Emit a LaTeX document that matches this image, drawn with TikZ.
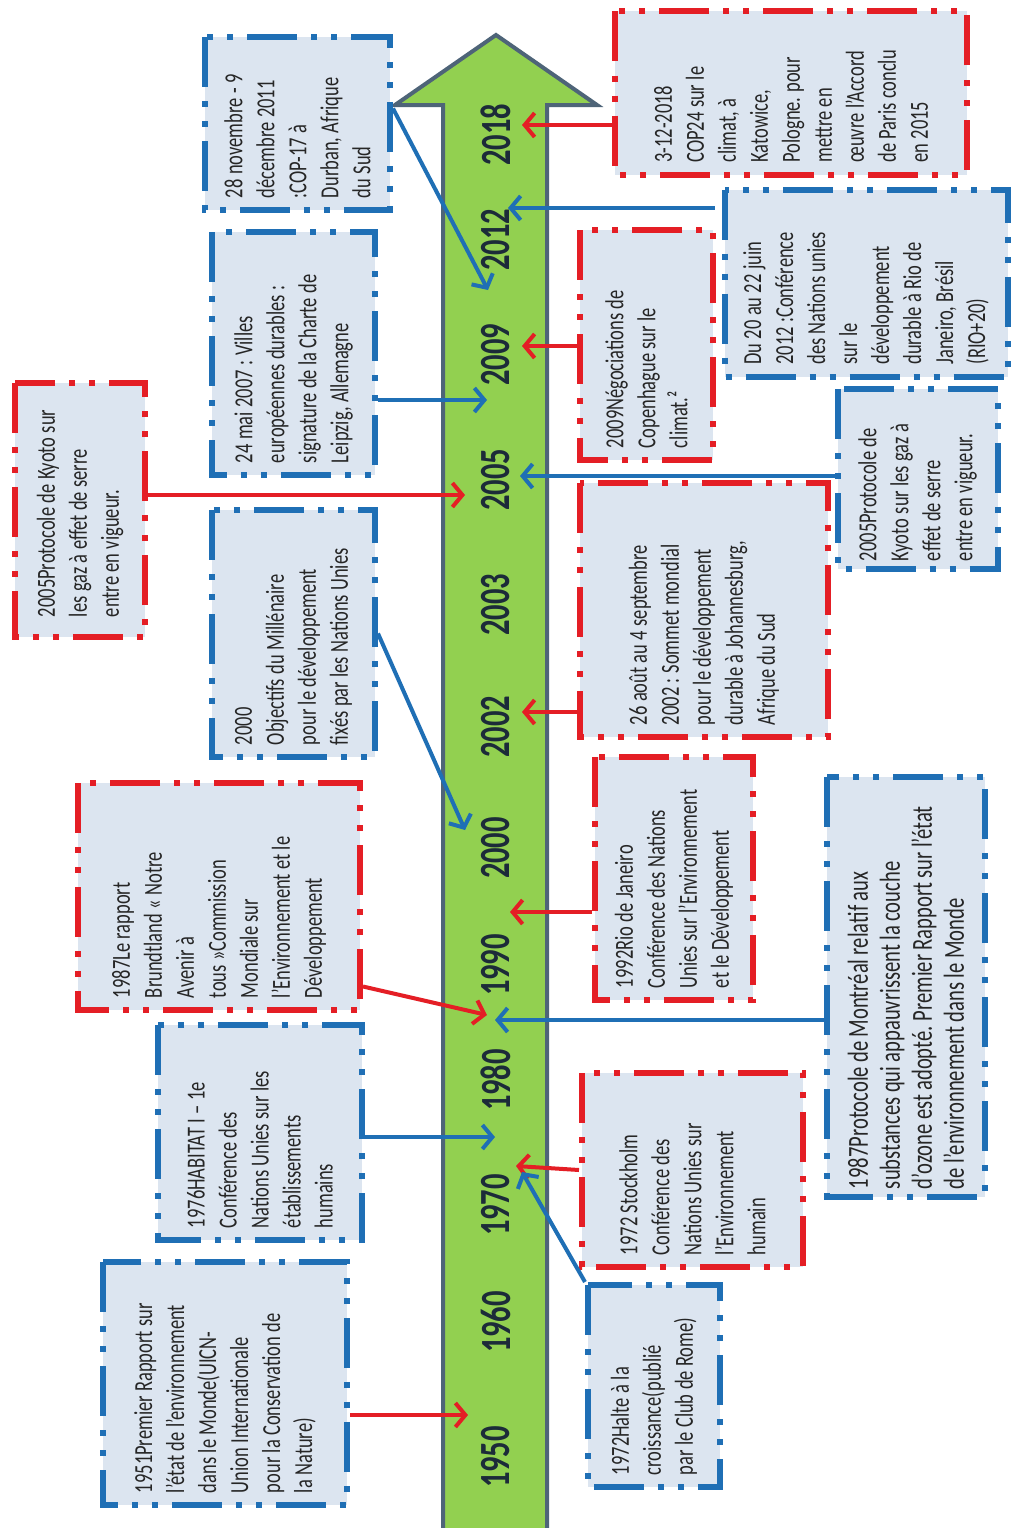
\documentclass[tikz,border=0pt]{standalone}
\usepackage{fontspec}
\setmainfont[FakeStretch=0.71]{Carlito}
\usetikzlibrary{arrows.meta}
\definecolor{redc}{RGB}{228,30,37}
\definecolor{bluec}{RGB}{31,111,181}
\definecolor{boxfill}{RGB}{220,229,240}
\definecolor{greenc}{RGB}{146,208,80}
\definecolor{outlinec}{RGB}{78,100,120}
\definecolor{txtc}{RGB}{38,38,38}
\definecolor{yearc}{RGB}{28,43,57}
\tikzset{
 evbox/.style={rotate=90, fill=boxfill, line width=6pt,
   dash pattern=on 50pt off 14pt on 6pt off 14pt on 6pt off 14pt,
   inner xsep=12pt, inner ysep=6pt, align=left, text=txtc,
   font=\fontsize{26}{32}\selectfont,
   execute at begin node={\spaceskip=4.4pt plus 1pt minus 1pt\xspaceskip=5pt plus 1pt\relax}},
 redbox/.style={evbox, draw=redc},
 bluebox/.style={evbox, draw=bluec},
 yearlbl/.style={rotate=90, text=yearc, font=\bfseries\fontsize{43}{43}\selectfont, inner sep=0pt},
 redarr/.style={draw=redc, line width=4pt, -{Straight Barb[length=10pt,width=24pt]}},
 bluearr/.style={draw=bluec, line width=4pt, -{Straight Barb[length=10pt,width=24pt]}},
}
\begin{document}
\begin{tikzpicture}[x=1pt,y=-1pt]
\useasboundingbox (0,0) rectangle (1012,1528);
\fill[white] (0,0) rectangle (1012,1528);

% timeline arrow
\fill[greenc] (443,1540) -- (443,105) -- (395,105) -- (496,35) -- (597,105) -- (547,105) -- (547,1540) -- cycle;
\draw[outlinec, line width=4pt, line join=miter] (443,1540) -- (443,105) -- (395,105) -- (496,35) -- (597,105) -- (547,105) -- (547,1540);

% years
\node[yearlbl] (y1950) at (496,1457) {1950};
\node[yearlbl] (y1960) at (496,1322) {1960};
\node[yearlbl] (y1970) at (496,1205) {1970};
\node[yearlbl] (y1980) at (496,1080) {1980};
\node[yearlbl] (y1990) at (496,965) {1990};
\node[yearlbl] (y2000) at (496,848) {2000};
\node[yearlbl] (y2002) at (496,727) {2002};
\node[yearlbl] (y2003) at (496,605) {2003};
\node[yearlbl] (y2005) at (496,480) {2005};
\node[yearlbl] (y2009) at (496,355) {2009};
\node[yearlbl] (y2012) at (496,240) {2012};
\node[yearlbl] (y2018) at (496,135) {2018};

% target points
\coordinate (tKyotoL) at (465,495);
\coordinate (tDurban) at (488,290);
\coordinate (tLeipzig) at (487,400);
\coordinate (tObj) at (465,830);
\coordinate (tBrund) at (487,1015);
\coordinate (tHabitat) at (495,1137);
\coordinate (tUicn) at (468,1415);
\coordinate (tCop) at (522,125);
\coordinate (tRio20) at (508,208);
\coordinate (tCopen) at (522,346);
\coordinate (tKyotoR) at (520,476);
\coordinate (tJoburg) at (522,712);
\coordinate (tRio92) at (510,912);
\coordinate (tMontreal) at (495,1020);
\coordinate (tStock) at (516,1166);
\coordinate (tHalte) at (522,1172);

% left boxes
\node[redbox, minimum width=254pt, minimum height=130pt, text width=214pt, inner xsep=20pt] (kyotoL) at (80,510)
 {2005Protocole de Kyoto sur\\les gaz à effet de serre\\entre en vigueur.};
\node[bluebox, minimum width=173pt, minimum height=185pt, text width=149pt] (durban) at (297.5,123.5)
 {28 novembre - 9\\décembre 2011\\:COP-17 à\\Durban, Afrique\\du Sud};
\node[bluebox, minimum width=243pt, minimum height=163pt, text width=219pt] (leipzig) at (293.5,353.5)
 {24 mai 2007 : Villes\\européennes durables :\\signature de la Charte de\\Leipzig, Allemagne};
\node[bluebox, minimum width=247pt, minimum height=163pt, text width=223pt] (objectifs) at (293.5,633.5)
 {2000\\Objectifs du Millénaire\\pour le développement\\fixés par les Nations Unies};
\node[redbox, minimum width=227pt, minimum height=282pt, text width=203pt] (brundtland) at (219,896.5)
 {1987Le rapport\\Brundtland « Notre\\Avenir à\\tous »Commission\\Mondiale sur\\l’Environnement et le\\Développement};
\node[bluebox, minimum width=215pt, minimum height=204pt, text width=191pt] (habitat) at (260,1132.5)
 {1976HABITAT I – 1e\\Conférence des\\Nations Unies sur les\\établissements\\humains};
\node[bluebox, minimum width=243pt, minimum height=244pt, text width=219pt] (uicn) at (225,1383.5)
 {1951Premier Rapport sur\\l’état de l’environnement\\dans le Monde(UICN-\\Union Internationale\\pour la Conservation de\\la Nature)};

% right boxes
\node[redbox, minimum width=163pt, minimum height=352pt, text width=139pt] (cop24) at (791,93)
 {3-12-2018\\COP24 sur le\\climat, à\\Katowice,\\Pologne. pour\\mettre en\\œuvre l’Accord\\de Paris conclu\\en 2015};
\node[bluebox, minimum width=187pt, minimum height=283pt, text width=163pt] (rio20) at (866,283)
 {Du 20 au 22 juin\\2012 :Conférence\\des Nations unies\\sur le\\développement\\durable à Rio de\\Janeiro, Brésil\\(RIO+20)};
\node[redbox, minimum width=230pt, minimum height=133pt, text width=206pt] (copen) at (646.5,345)
 {2009Négociations de\\Copenhague sur le\\climat.²};
\node[bluebox, minimum width=180pt, minimum height=160pt, text width=164pt, inner xsep=8pt] (kyotoR) at (917.5,479)
 {2005Protocole de\\Kyoto sur les gaz à\\effet de serre\\entre en vigueur.};
\node[redbox, minimum width=254pt, minimum height=248pt, text width=230pt] (joburg) at (704,610)
 {26 août au 4 septembre\\2002 : Sommet mondial\\pour le développement\\durable à Johannesburg,\\Afrique du Sud};
\node[redbox, minimum width=243pt, minimum height=158pt, text width=219pt] (rio92) at (674,878.5)
 {1992Rio de Janeiro\\Conférence des Nations\\Unies sur l’Environnement\\et le Développement};
\node[bluebox, minimum width=420pt, minimum height=158pt, text width=404pt, inner xsep=8pt,
  font=\fontsize{29}{32}\selectfont] (montreal) at (906,987)
 {1987Protocole de Montréal relatif aux\\substances qui appauvrissent la couche\\d’ozone est adopté. Premier Rapport sur l’état\\de l’environnement dans le Monde};
\node[redbox, minimum width=194pt, minimum height=221pt, text width=170pt] (stockholm) at (692.5,1170)
 {1972 Stockholm\\Conférence des\\Nations Unies sur\\l’Environnement\\humain};
\node[bluebox, minimum width=202pt, minimum height=132pt, text width=178pt] (halte) at (654,1386)
 {1972Halte à la\\croissance(publié\\par le Club de Rome)};

% connectors
\draw[redarr] (kyotoL.south |- tKyotoL) -- (tKyotoL);
\draw[bluearr] ([yshift=15pt]durban.south) -- (tDurban);
\draw[bluearr] (leipzig.south |- tLeipzig) -- (tLeipzig);
\draw[bluearr] (objectifs.south) -- (tObj);
\draw[redarr] ([yshift=-90pt]brundtland.south) -- (tBrund);
\draw[bluearr] (habitat.south |- tHabitat) -- (tHabitat);
\draw[redarr] (uicn.south |- tUicn) -- (tUicn);
\draw[redarr] (cop24.north |- tCop) -- (tCop);
\draw[bluearr] ([xshift=-7pt]rio20.north |- tRio20) -- (tRio20);
\draw[redarr] (copen.north |- tCopen) -- (tCopen);
\draw[bluearr] (kyotoR.north |- tKyotoR) -- (tKyotoR);
\draw[redarr] (joburg.north |- tJoburg) -- (tJoburg);
\draw[redarr] (rio92.north |- tRio92) -- (tRio92);
\draw[bluearr] (montreal.north |- tMontreal) -- (tMontreal);
\draw[redarr] (stockholm.north) -- (tStock);
\draw[bluearr] (halte.north east) -- (tHalte);
\end{tikzpicture}
\end{document}
